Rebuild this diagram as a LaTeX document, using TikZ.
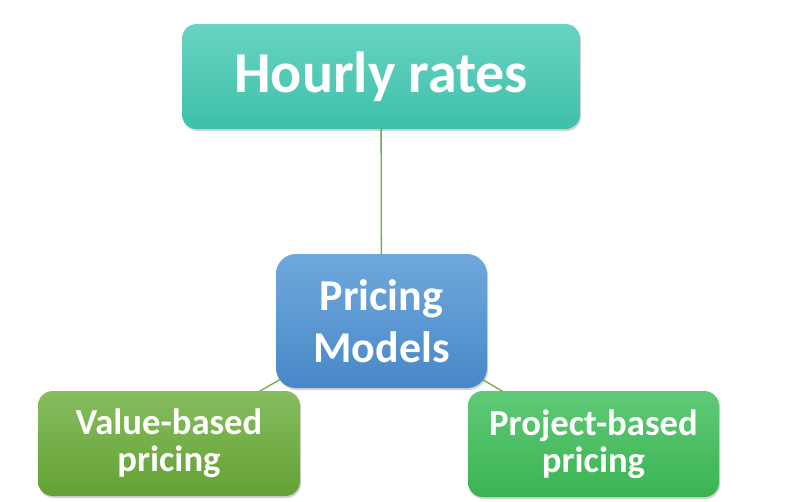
\documentclass[tikz,border=0pt]{standalone}
\usepackage{fontspec}
\setmainfont{Carlito}
\usetikzlibrary{shadows,backgrounds}

\definecolor{tealtop}{RGB}{104,212,193}
\definecolor{tealbot}{RGB}{62,192,170}
\definecolor{bluetop}{RGB}{112,168,220}
\definecolor{bluebot}{RGB}{72,136,200}
\definecolor{olivetop}{RGB}{134,189,94}
\definecolor{olivebot}{RGB}{99,161,52}
\definecolor{greentop}{RGB}{96,201,119}
\definecolor{greenbot}{RGB}{58,180,82}
\definecolor{linkgreen}{RGB}{112,173,71}

\tikzset{
  box/.style={rounded corners=11pt, text=white, align=center, inner sep=0pt,
    font=\bfseries,
    drop shadow={shadow xshift=0.8pt, shadow yshift=-1.5pt, opacity=0.35}},
  link/.style={draw=linkgreen, line width=1pt}
}

\begin{document}
\begin{tikzpicture}[x=0.75pt,y=-0.75pt]
\useasboundingbox (0,0) rectangle (787,501);
\node[box, top color=tealtop, bottom color=tealbot, minimum width=298.5pt, minimum height=78.75pt,
  font=\bfseries\fontsize{43.5}{46}\selectfont] (hourly) at (381,76.5) {Hourly rates};
\node[box, top color=bluetop, bottom color=bluebot, minimum width=158.25pt, minimum height=100.5pt,
  rounded corners=15pt, font=\bfseries\fontsize{33}{39}\selectfont] (models) at (381.5,321) {Pricing\\Models};
\node[box, top color=olivetop, bottom color=olivebot, minimum width=196.5pt, minimum height=78.75pt,
  font=\bfseries\fontsize{27.5}{28}\selectfont] (value) at (169,443.5) {Value-based\\pricing};
\node[box, top color=greentop, bottom color=greenbot, minimum width=188.25pt, minimum height=79.5pt,
  font=\bfseries\fontsize{27.5}{28}\selectfont] (project) at (593.5,444) {Project-based\\pricing};
% links behind the boxes
\begin{scope}[on background layer]
\draw[link] (hourly.center) -- (models.center);
\draw[link] (models.center) -- (value.center);
\draw[link] (models.center) -- (project.center);
\end{scope}
\end{tikzpicture}
\end{document}
